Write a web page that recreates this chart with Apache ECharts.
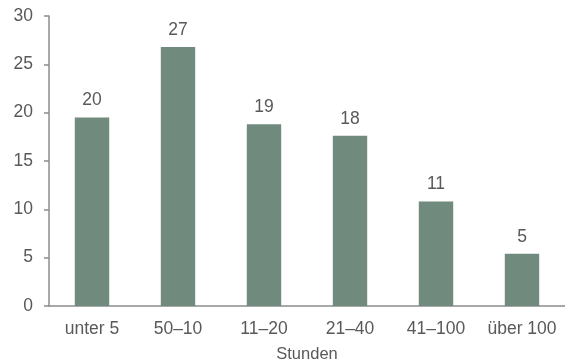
<!DOCTYPE html>
<html>
<head>
<meta charset="utf-8">
<script src="https://cdn.jsdelivr.net/npm/echarts@6/dist/echarts.min.js"></script>
<style>
  html, body { margin: 0; padding: 0; background: #fff; }
  #chart { width: 565px; height: 363px; }
</style>
</head>
<body>
<div id="chart"></div>
<script>
// Kategorien und Werte
const categories = ['unter 5', '50–10', '11–20', '21–40', '41–100', 'über 100'];
const values = [19.5, 26.8, 18.8, 17.6, 10.8, 5.4];
const labels = ['20', '27', '19', '18', '11', '5'];
const yTicks = [0, 5, 10, 15, 20, 25, 30];

const textColor = '#595959';
const axisColor = '#8c8c8c';
const font = 'Liberation Sans';
const fontSize = 17.5;

let myChart = echarts.init(document.getElementById('chart'));

let option = {
    animation: false,
    grid: { left: 49, right: 0, top: 16, bottom: 57, containLabel: false, outerBoundsMode: 'none' },
    xAxis: {
        type: 'category',
        data: categories,
        name: 'Stunden',
        nameLocation: 'middle',
        nameGap: 40,
        nameTextStyle: { color: textColor, fontSize: fontSize - 1, fontFamily: font },
        axisLine: { lineStyle: { color: axisColor, width: 1.5 } },
        axisTick: { show: false },
        axisLabel: { color: textColor, fontSize: fontSize, fontFamily: font, margin: 14, interval: 0 }
    },
    yAxis: {
        type: 'value',
        min: yTicks[0],
        max: yTicks[yTicks.length - 1],
        interval: 5,
        splitLine: { show: false },
        axisLine: { show: true, lineStyle: { color: axisColor, width: 1.5 } },
        axisTick: { show: true, length: 5, lineStyle: { color: axisColor, width: 1.5 } },
        axisLabel: { color: textColor, fontSize: fontSize, fontFamily: font, margin: 16 }
    },
    series: [{
        type: 'bar',
        data: values,
        barWidth: '40%',
        itemStyle: { color: '#718a7e' },
        label: {
            show: true,
            position: 'top',
            distance: 8,
            color: textColor,
            fontSize: fontSize,
            fontFamily: font,
            formatter: p => labels[p.dataIndex]
        }
    }]
};
myChart.setOption(option);
</script>
</body>
</html>
